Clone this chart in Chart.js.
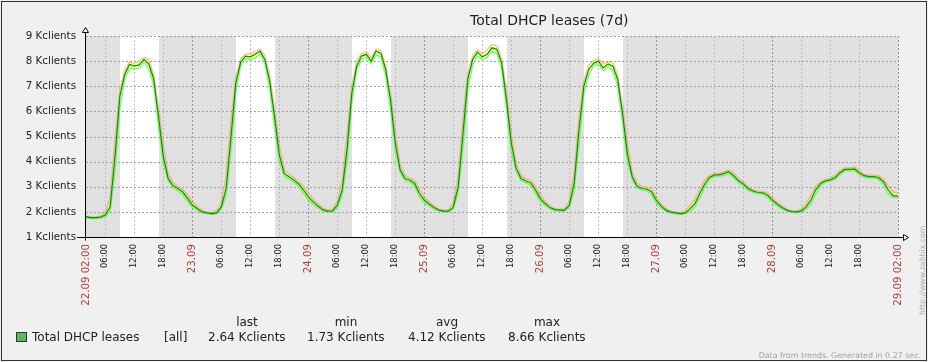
<!DOCTYPE html>
<html>
<head>
<meta charset="utf-8">
<script src="https://cdn.jsdelivr.net/npm/chart.js@4.4.1/dist/chart.umd.min.js"></script>
<style>
  html, body { margin:0; padding:0; background:#f0f0f0; }
  #wrap { position:relative; width:928px; height:362px; overflow:hidden; background:#f0f0f0; font-family:"DejaVu Sans", sans-serif; color:#222; }
  #c { position:absolute; left:0; top:0; }
  .t { position:absolute; white-space:nowrap; line-height:1; }
  #frame { position:absolute; left:1px; top:1px; width:926px; height:360px; box-sizing:border-box; border:1px solid #333; pointer-events:none; }
  .sq { position:absolute; left:16px; top:332px; width:11px; height:10px; box-sizing:border-box; border:1px solid #333; background:#5cb85c; }
  .hd { position:absolute; width:80px; text-align:center; font-size:12px; line-height:1; top:316px; }
  .lv { font-size:12px; top:331px; }
</style>
</head>
<body>
<div id="wrap">
  <canvas id="c" width="928" height="362"></canvas>
  <div id="title" class="t" style="left:470px; top:13px; font-size:14px;"></div>
  <div id="legend"></div>
  <div id="foot" class="t" style="right:7px; top:352px; font-size:7.9px; color:#a0a0a0;"></div>
  <div id="url" class="t" style="left:919px; top:315px; font-size:7.8px; color:#a8a8a8; transform-origin:0 0; transform:rotate(-90deg);"></div>
  <div id="frame"></div>
</div>
<script>
// ---- data (hourly trend values, Kclients, starting 22.09 02:00) ----
const avgK = [
  1.80,1.77,1.77,1.79,1.87,2.20,4.20,6.60,7.47,7.87,
  7.80,7.85,8.07,7.88,7.30,5.80,4.20,3.33,3.05,2.93,
  2.80,2.55,2.27,2.13,2.00,1.96,1.93,1.96,2.20,2.93,
  5.00,7.13,7.96,8.20,8.17,8.27,8.40,8.07,7.20,5.80,
  4.27,3.53,3.40,3.27,3.11,2.87,2.60,2.40,2.23,2.09,
  2.03,2.04,2.27,2.87,4.47,6.73,7.80,8.20,8.27,8.00,
  8.40,8.31,7.67,6.47,4.73,3.67,3.33,3.27,3.13,2.73,
  2.47,2.31,2.17,2.07,2.03,2.03,2.20,3.00,5.13,7.27,
  8.07,8.36,8.17,8.27,8.53,8.47,7.93,6.47,4.73,3.73,
  3.33,3.23,3.16,2.87,2.53,2.33,2.17,2.09,2.07,2.07,
  2.27,3.13,5.27,7.00,7.67,7.91,8.00,7.73,7.89,7.80,
  7.27,5.93,4.33,3.40,3.03,2.93,2.91,2.80,2.47,2.23,
  2.07,1.99,1.96,1.93,1.96,2.13,2.33,2.73,3.11,3.37,
  3.47,3.47,3.53,3.60,3.44,3.24,3.11,2.93,2.83,2.77,
  2.76,2.67,2.47,2.31,2.17,2.07,2.01,2.00,2.04,2.20,
  2.47,2.89,3.13,3.24,3.27,3.37,3.56,3.69,3.69,3.71,
  3.56,3.44,3.40,3.40,3.37,3.20,2.87,2.64,2.64
];
const minK = [
  1.76,1.74,1.73,1.75,1.80,2.05,3.65,6.10,7.28,7.70,
  7.70,7.72,7.95,7.70,7.05,5.40,3.95,3.24,2.95,2.85,
  2.68,2.42,2.18,2.06,1.96,1.93,1.90,1.92,2.10,2.65,
  4.45,6.77,7.83,8.08,8.05,8.12,8.28,7.91,6.90,5.40,
  4.03,3.44,3.30,3.18,3.00,2.74,2.48,2.30,2.15,2.04,
  2.00,2.00,2.17,2.66,3.98,6.31,7.65,8.05,8.15,7.90,
  8.25,8.15,7.43,6.08,4.41,3.56,3.25,3.20,3.00,2.60,
  2.38,2.24,2.10,2.03,2.00,2.00,2.12,2.75,4.56,6.88,
  7.85,8.22,8.05,8.15,8.40,8.30,7.71,6.08,4.41,3.61,
  3.25,3.17,3.06,2.74,2.43,2.25,2.11,2.05,2.04,2.03,
  2.18,2.86,4.73,6.70,7.45,7.80,7.88,7.62,7.78,7.60,
  7.03,5.56,4.06,3.30,2.95,2.88,2.85,2.68,2.36,2.15,
  2.02,1.95,1.93,1.90,1.92,2.02,2.20,2.55,2.98,3.28,
  3.42,3.42,3.46,3.52,3.36,3.16,3.02,2.86,2.78,2.73,
  2.72,2.58,2.39,2.24,2.11,2.03,1.98,1.97,2.00,2.10,
  2.32,2.72,3.05,3.18,3.22,3.30,3.48,3.63,3.64,3.64,
  3.48,3.38,3.35,3.35,3.30,3.08,2.72,2.58,2.56
];
const maxK = [
  1.83,1.80,1.80,1.84,1.96,2.60,4.80,6.85,7.62,7.98,
  7.92,8.00,8.15,8.05,7.48,6.20,4.60,3.50,3.18,3.00,
  2.90,2.68,2.40,2.20,2.06,2.00,1.97,2.05,2.35,3.40,
  5.60,7.37,8.10,8.28,8.28,8.38,8.48,8.22,7.45,6.15,
  4.63,3.69,3.50,3.36,3.22,3.00,2.73,2.50,2.32,2.16,
  2.07,2.12,2.41,3.23,5.03,7.01,8.00,8.30,8.38,8.15,
  8.48,8.42,7.86,6.78,5.11,3.88,3.45,3.34,3.25,2.90,
  2.58,2.40,2.24,2.12,2.06,2.10,2.35,3.40,5.71,7.51,
  8.22,8.45,8.30,8.45,8.66,8.62,8.11,6.83,5.11,3.91,
  3.45,3.30,3.26,3.00,2.66,2.42,2.24,2.13,2.10,2.14,
  2.43,3.56,5.78,7.20,7.85,8.02,8.10,7.90,7.98,7.95,
  7.46,6.26,4.71,3.57,3.15,3.00,2.98,2.92,2.60,2.32,
  2.13,2.03,2.00,1.97,2.04,2.25,2.50,2.90,3.25,3.45,
  3.53,3.53,3.60,3.66,3.54,3.33,3.18,3.00,2.88,2.82,
  2.80,2.76,2.56,2.38,2.23,2.11,2.04,2.03,2.10,2.32,
  2.65,3.02,3.20,3.30,3.33,3.46,3.64,3.75,3.75,3.78,
  3.64,3.50,3.46,3.46,3.44,3.32,3.02,2.80,2.74
];
const tickHours = [0,4,10,16,22,28,34,40,46,52,58,64,70,76,82,88,94,100,106,112,118,124,130,136,142,148,154,160,168];
const tickLabels = ['22.09 02:00','06:00','12:00','18:00','23.09','06:00','12:00','18:00','24.09','06:00','12:00','18:00','25.09','06:00','12:00','18:00','26.09','06:00','12:00','18:00','27.09','06:00','12:00','18:00','28.09','06:00','12:00','18:00','29.09 02:00'];
const yTicks = [1,2,3,4,5,6,7,8,9];
const workPeriods = [[7,15],[31,39],[55,63],[79,87],[103,111]]; // 09:00-17:00, Mon-Fri
const titleText = 'Total DHCP leases (7d)';
const legendName = 'Total DHCP leases';
const legendFunc = '[all]';
const statNames = ['last','min','avg','max'];
const statValues = ['2.64 Kclients','1.73 Kclients','4.12 Kclients','8.66 Kclients'];
const footText = 'Data from trends. Generated in 0.27 sec.';
const urlText = 'http://www.zabbix.com';

// ---- text ----
document.getElementById('title').textContent = titleText;
document.getElementById('foot').textContent = footText;
document.getElementById('url').textContent = urlText;
const lg = document.getElementById('legend');
const statCols = [208, 307, 408, 508];
lg.innerHTML = '<div class="sq"></div>' +
  '<div class="t lv" style="left:32px">' + legendName + '</div>' +
  '<div class="t lv" style="left:164px">' + legendFunc + '</div>' +
  statNames.map((n, i) => '<div class="hd" style="left:' + (statCols[i] - 1) + 'px">' + n + '</div>' +
    '<div class="t lv" style="left:' + statCols[i] + 'px">' + statValues[i] + '</div>').join('');

const isDay = i => { const l = tickLabels[i]; return typeof l === 'string' && l.indexOf('.') >= 0; };

const zbx = {
  id: 'zbx',
  beforeDatasetsDraw(chart) {
    const { ctx, chartArea: a, scales: { x, y } } = chart;
    ctx.save();
    ctx.fillStyle = '#e0e0e0';
    ctx.fillRect(a.left, a.top, a.right - a.left, a.bottom - a.top);
    ctx.fillStyle = '#ffffff';
    workPeriods.forEach(([s, e]) => {
      const x1 = Math.round(x.getPixelForValue(s)), x2 = Math.round(x.getPixelForValue(e));
      ctx.fillRect(x1, a.top, x2 - x1, a.bottom - a.top);
    });
    ctx.lineWidth = 1;
    ctx.setLineDash([2, 2]);
    yTicks.forEach(v => {
      if (v === yTicks[0]) return;
      const py = Math.round(y.getPixelForValue(v)) + 0.5;
      ctx.strokeStyle = '#a0a0a0';
      ctx.beginPath(); ctx.moveTo(a.left, py); ctx.lineTo(a.right + 1, py); ctx.stroke();
    });
    tickHours.forEach((h, i) => {
      if (i === 0) return;
      const px = Math.round(x.getPixelForValue(h)) + 0.5;
      ctx.strokeStyle = isDay(i) ? '#959595' : '#bdbdbd';
      ctx.beginPath(); ctx.moveTo(px, a.top); ctx.lineTo(px, a.bottom); ctx.stroke();
    });
    ctx.restore();
  },
  afterDraw(chart) {
    const { ctx, chartArea: a } = chart;
    ctx.save();
    ctx.strokeStyle = '#000'; ctx.lineWidth = 1; ctx.setLineDash([]);
    const ax = a.left - 0.5, ay = Math.round(a.bottom) + 0.5;
    ctx.beginPath(); ctx.moveTo(ax, a.top - 4); ctx.lineTo(ax, ay + 3); ctx.stroke();
    ctx.beginPath(); ctx.moveTo(a.left - 9, ay); ctx.lineTo(a.right + 5, ay); ctx.stroke();
    ctx.fillStyle = '#ffffff';
    ctx.beginPath(); ctx.moveTo(ax, a.top - 8.5); ctx.lineTo(ax + 3, a.top - 3.5); ctx.lineTo(ax - 3, a.top - 3.5); ctx.closePath(); ctx.fill(); ctx.stroke();
    ctx.beginPath(); ctx.moveTo(a.right + 10.5, ay); ctx.lineTo(a.right + 5.5, ay - 3); ctx.lineTo(a.right + 5.5, ay + 3); ctx.closePath(); ctx.fill(); ctx.stroke();
    ctx.restore();
  }
};

const pts = arr => arr.map((v, i) => ({ x: i, y: v }));

new Chart(document.getElementById('c'), {
  type: 'line',
  data: {
    datasets: [
      { label: 'max', data: pts(maxK), borderColor: 'rgba(255,110,90,0.45)', borderWidth: 1.5, backgroundColor: 'rgba(255,255,90,0.5)', fill: '+1', order: 2 },
      { label: 'min', data: pts(minK), borderColor: 'rgba(60,255,60,0.7)', borderWidth: 1.5, fill: false, order: 1 },
      { label: 'avg', data: pts(avgK), borderColor: '#009600', borderWidth: 1.2, fill: false, order: 0 }
    ]
  },
  options: {
    responsive: false, animation: false, devicePixelRatio: 1,
    layout: { padding: { left: 0, right: 30, top: 36, bottom: 0 } },
    elements: { point: { radius: 0 }, line: { tension: 0 } },
    plugins: { legend: { display: false }, tooltip: { enabled: false }, title: { display: false } },
    scales: {
      x: {
        type: 'linear', min: 0, max: 168,
        grid: { display: false, drawTicks: false }, border: { display: false },
        afterBuildTicks: s => { s.ticks = tickHours.map(v => ({ value: v })); },
        afterFit: s => { s.height = 125; },
        ticks: {
          autoSkip: false, minRotation: 90, maxRotation: 90, padding: 7,
          callback: (v, i) => tickLabels[i],
          color: c => isDay(c.index) ? '#b03c3c' : '#222',
          font: c => ({ family: "'DejaVu Sans'", size: isDay(c.index) ? 10.2 : 8.3 })
        }
      },
      y: {
        min: 1, max: 9,
        grid: { display: false, drawTicks: false }, border: { display: false },
        afterBuildTicks: s => { s.ticks = yTicks.map(v => ({ value: v })); },
        afterFit: s => { s.width = 86; },
        ticks: { padding: 10, color: '#222', font: { family: "'DejaVu Sans'", size: 10.3 }, callback: v => v + ' Kclients' }
      }
    }
  },
  plugins: [zbx]
});
</script>
</body>
</html>
